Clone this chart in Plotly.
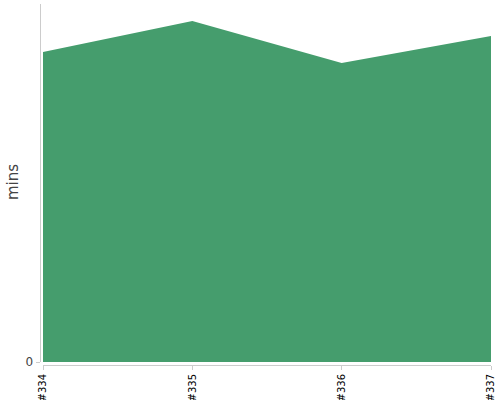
import plotly.graph_objects as go

builds = ["#334", "#335", "#336", "#337"]
mins = [31.0, 34.1, 29.9, 32.6]
y_max = 35.8

W, H = 500, 400
ml, mr, mt, mb = 36, 9, 4, 35
pw = W - ml - mr
ph = H - mt - mb

fig = go.Figure()
fig.add_trace(go.Scatter(
    x=list(range(len(builds))), y=mins, mode="lines",
    line=dict(width=0, color="#459d6d"),
    fill="tozeroy", fillcolor="#459d6d",
    hoverinfo="skip", showlegend=False,
))

fig.update_layout(
    width=W, height=H,
    margin=dict(l=ml, r=mr, t=mt, b=mb, pad=0),
    paper_bgcolor="white", plot_bgcolor="white",
    font=dict(family="DejaVu Sans, Arial, sans-serif"),
    xaxis=dict(
        domain=[7 / pw, 1], range=[0, len(builds) - 1],
        anchor="free", position=0,
        tickmode="array", tickvals=list(range(len(builds))), ticktext=builds,
        tickangle=-90, tickfont=dict(size=10, color="#000"),
        ticks="outside", ticklen=4, tickcolor="#ccc",
        showline=True, linecolor="#ccc", linewidth=1,
        showgrid=False, zeroline=False, automargin=False,
    ),
    yaxis=dict(
        domain=[3 / ph, 1], range=[0, y_max],
        anchor="free", position=3.5 / pw,
        tickmode="array", tickvals=[0], ticktext=["0"],
        tickfont=dict(size=12, color="#444"),
        ticks="outside", ticklen=4, tickcolor="#ccc",
        showline=True, linecolor="#ccc", linewidth=1,
        showgrid=False, zeroline=False, automargin=False,
    ),
    annotations=[dict(
        text="mins", textangle=-90, showarrow=False,
        xref="paper", yref="paper",
        x=(13 - ml) / pw, y=(H - mb - 182) / ph,
        xanchor="center", yanchor="middle",
        font=dict(size=15, color="#444"),
    )],
)

fig.write_html(
    "out.html",
    config={"displayModeBar": False, "staticPlot": True},
    post_script="document.body.style.margin='0';document.body.style.overflow='hidden';",
)
